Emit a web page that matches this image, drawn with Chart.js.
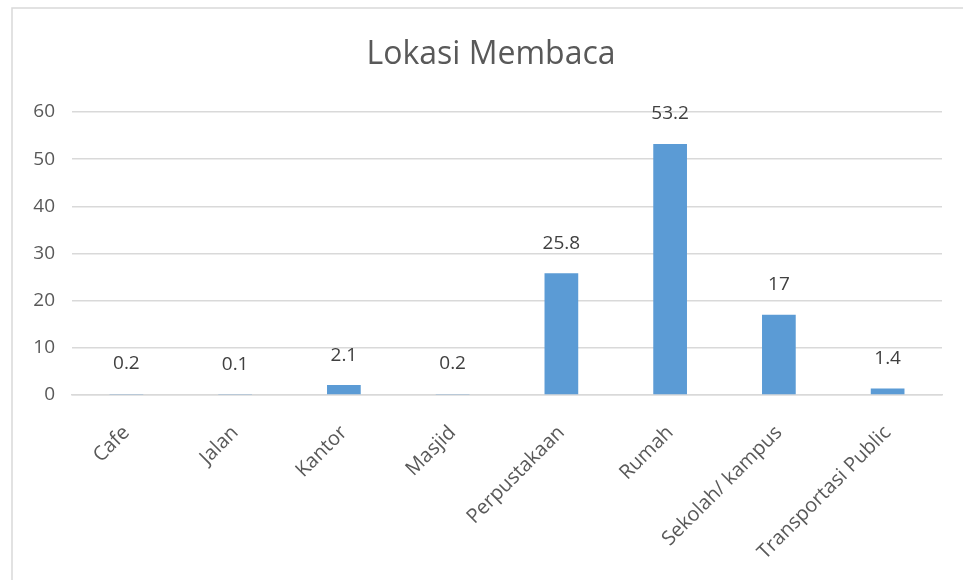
<!DOCTYPE html>
<html>
<head>
<meta charset="utf-8">
<script src="https://cdn.jsdelivr.net/npm/chart.js@4"></script>
<style>
  html, body { margin: 0; padding: 0; background: #fff; }
  #wrap { width: 963px; height: 580px; }
</style>
</head>
<body>
<div id="wrap"><canvas id="lokasiChart" width="963" height="580"></canvas></div>
<script>
// Lokasi Membaca - data
const categories = ['Cafe', 'Jalan', 'Kantor', 'Masjid', 'Perpustakaan', 'Rumah', 'Sekolah/ kampus', 'Transportasi Public'];
const values = [0.2, 0.1, 2.1, 0.2, 25.8, 53.2, 17, 1.4];
const yTicks = [0, 10, 20, 30, 40, 50, 60];
const chartTitle = 'Lokasi Membaca';

const textColor = '#595959';
const fontFamily = "'Open Sans', 'Liberation Sans', sans-serif";

// frame lines (left + top) like the cropped Excel chart box
const framePlugin = {
    id: 'frame',
    beforeDraw(chart) {
        const ctx = chart.ctx;
        ctx.save();
        ctx.fillStyle = '#fff';
        ctx.fillRect(0, 0, chart.width, chart.height);
        ctx.strokeStyle = '#d9d9d9';
        ctx.lineWidth = 1.5;
        ctx.beginPath();
        ctx.moveTo(12, chart.height);
        ctx.lineTo(12, 8);
        ctx.lineTo(chart.width, 8);
        ctx.stroke();
        ctx.restore();
    }
};

// title, centred a bit left of the plot centre like Excel does
const titlePlugin = {
    id: 'excelTitle',
    afterDraw(chart) {
        const ctx = chart.ctx;
        const a = chart.chartArea;
        ctx.save();
        ctx.fillStyle = textColor;
        ctx.font = '32px ' + fontFamily;
        ctx.textAlign = 'center';
        ctx.textBaseline = 'middle';
        ctx.fillText(chartTitle, (a.left + a.right) / 2 - 16, a.top - 57);
        ctx.restore();
    }
};

// value labels above bars
const valueLabels = {
    id: 'valueLabels',
    afterDatasetsDraw(chart) {
        const ctx = chart.ctx;
        const meta = chart.getDatasetMeta(0);
        ctx.save();
        ctx.fillStyle = '#404040';
        ctx.font = '19px ' + fontFamily;
        ctx.textAlign = 'center';
        ctx.textBaseline = 'middle';
        meta.data.forEach((bar, i) => {
            ctx.fillText(String(values[i]), bar.x, bar.y - 30);
        });
        ctx.restore();
    }
};

new Chart(document.getElementById('lokasiChart'), {
    type: 'bar',
    data: {
        labels: categories,
        datasets: [{
            data: values,
            backgroundColor: '#5b9bd5',
            borderWidth: 0,
            categoryPercentage: 1,
            barPercentage: 0.31
        }]
    },
    options: {
        responsive: false,
        animation: false,
        layout: {
            padding: { left: 12, right: 21, top: 112, bottom: 0 }
        },
        plugins: {
            legend: { display: false },
            tooltip: { enabled: false },
            title: { display: false }
        },
        scales: {
            y: {
                min: 0,
                max: 60,
                afterFit(scale) { scale.width = 60; },
                afterBuildTicks(scale) { scale.ticks = yTicks.map(v => ({ value: v })); },
                ticks: {
                    color: textColor,
                    padding: 17,
                    font: { family: fontFamily, size: 19 }
                },
                grid: { color: '#d9d9d9', lineWidth: 1.5, drawTicks: false },
                border: { display: false }
            },
            x: {
                afterFit(scale) { scale.height = 185; },
                ticks: {
                    color: textColor,
                    minRotation: 45,
                    maxRotation: 45,
                    padding: 26,
                    font: { family: fontFamily, size: 20 }
                },
                grid: { display: false, drawTicks: false },
                border: { color: '#d9d9d9', width: 1.5 }
            }
        }
    },
    plugins: [framePlugin, titlePlugin, valueLabels]
});
</script>
</body>
</html>
